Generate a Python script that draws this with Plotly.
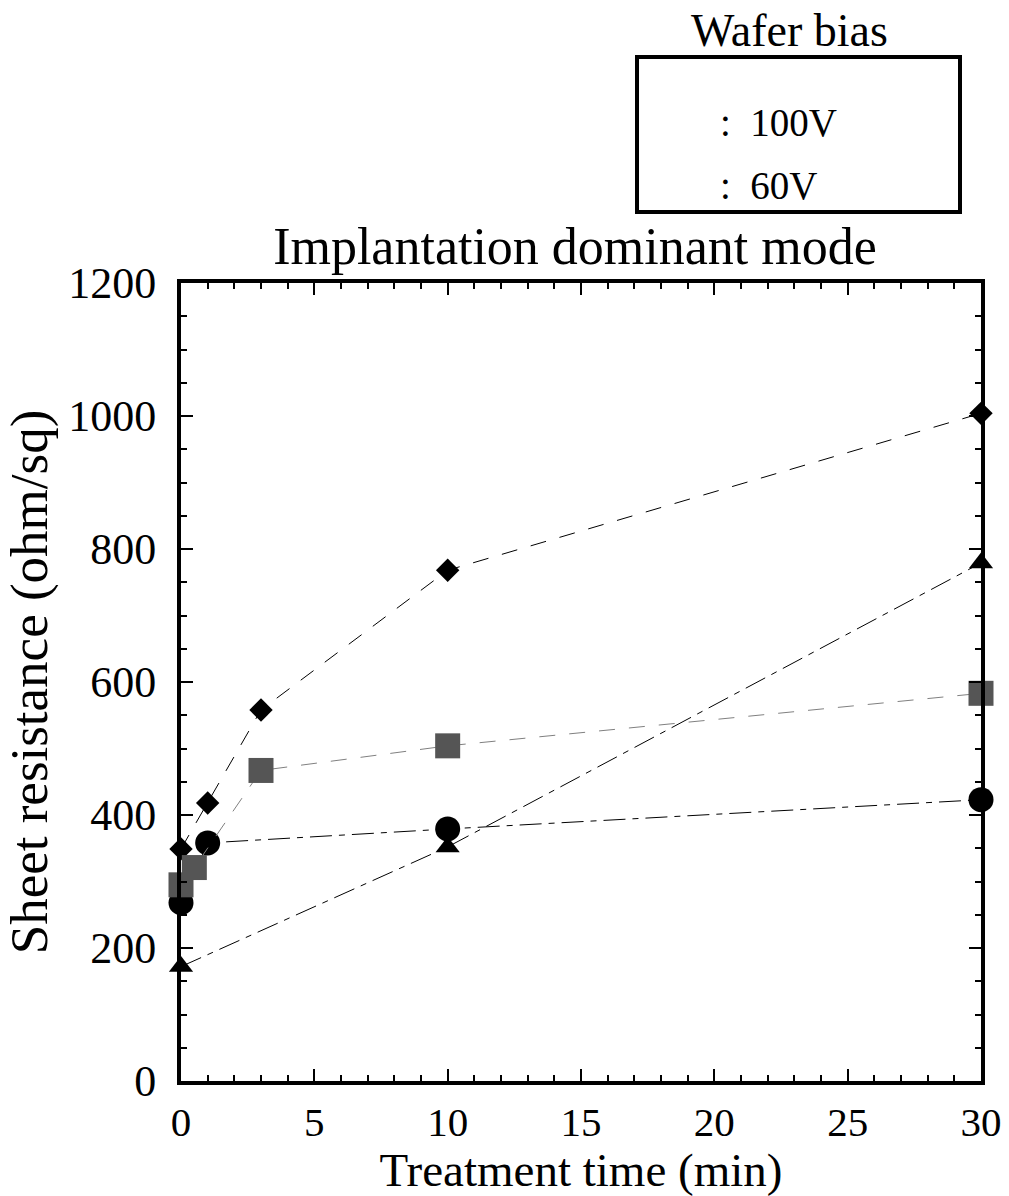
import plotly.graph_objects as go

# ---- data ----
diamond_x = [0, 1, 3, 10, 30]
diamond_y = [349, 418, 558, 768, 1004]

square_x = [0, 0.5, 3, 10, 30]
square_y = [295, 321, 467, 504, 583]

circle_x = [0, 1, 10, 30]
circle_y = [268, 358, 379, 423]

triangle_x = [0, 10, 30]
triangle_y = [172, 352, 779]

x_ticks = [0, 5, 10, 15, 20, 25, 30]
y_ticks = [0, 200, 400, 600, 800, 1000, 1200]

legend_title = "Wafer bias"
legend_labels = [":  100V", ":  60V"]

title_text = "Implantation dominant mode"
x_title = "Treatment time (min)"
y_title = "Sheet resistance (ohm/sq)"

FONT = "Liberation Serif"
DASHDOT = "22px,7px,6px,7px"
DASH = "16px,14px"

fig = go.Figure()

fig.add_trace(go.Scatter(
    x=triangle_x, y=triangle_y, mode="lines+markers",
    line=dict(color="black", width=1, dash=DASHDOT),
    marker=dict(symbol="triangle-up", size=21, color="black"),
    cliponaxis=False, showlegend=False))

fig.add_trace(go.Scatter(
    x=circle_x, y=circle_y, mode="lines+markers",
    line=dict(color="black", width=1, dash=DASHDOT),
    marker=dict(symbol="circle", size=25, color="black"),
    cliponaxis=False, showlegend=False))

fig.add_trace(go.Scatter(
    x=diamond_x, y=diamond_y, mode="lines+markers",
    line=dict(color="black", width=1, dash=DASH),
    marker=dict(symbol="diamond", size=18, color="black"),
    cliponaxis=False, showlegend=False))

fig.add_trace(go.Scatter(
    x=square_x, y=square_y, mode="lines+markers",
    line=dict(color="#808080", width=1, dash=DASH),
    marker=dict(symbol="square", size=25, color="#555555"),
    cliponaxis=False, showlegend=False))

axis_common = dict(
    showline=True, linewidth=4, linecolor="black", mirror="ticks",
    ticks="inside", ticklen=12, tickwidth=2, tickcolor="black",
    showgrid=False, zeroline=False,
)

fig.update_xaxes(
    range=[0, 30], tickvals=x_ticks, ticktext=[str(v) for v in x_ticks],
    minor=dict(dtick=1, ticks="inside", ticklen=6, tickwidth=2, tickcolor="black"),
    tickfont=dict(family=FONT, size=41, color="black"),
    title=dict(text=x_title, font=dict(family=FONT, size=47, color="black"), standoff=6),
    ticklabelstandoff=2,
    **axis_common)

fig.update_yaxes(
    range=[0, 1200], tickvals=y_ticks, ticktext=[str(v) for v in y_ticks],
    minor=dict(dtick=50, ticks="inside", ticklen=6, tickwidth=2, tickcolor="black"),
    tickfont=dict(family=FONT, size=44, color="black"),
    title=dict(text=y_title, font=dict(family=FONT, size=53, color="black"), standoff=6),
    ticklabelstandoff=12,
    **axis_common)

fig.update_layout(
    width=1009, height=1196,
    margin=dict(l=181, r=28, t=283, b=115, autoexpand=False),
    plot_bgcolor="white", paper_bgcolor="white",
    title=dict(text=title_text, x=(575 - 181) / 800, xref="paper", xanchor="center",
               y=1 - 246 / 1196, yref="container", yanchor="middle",
               font=dict(family=FONT, size=52, color="black")),
    font=dict(family=FONT, color="black"),
)

# legend box (paper coordinates relative to plot area)
def px(xp):
    return (xp - 181) / 800

def py(yp):
    return (1081 - yp) / 798

fig.add_shape(type="rect", xref="paper", yref="paper",
              x0=px(637), x1=px(960), y0=py(212), y1=py(57),
              line=dict(color="black", width=4), fillcolor="white")

fig.add_annotation(xref="paper", yref="paper", x=px(789), y=py(31),
                   text=legend_title, showarrow=False, xanchor="center", yanchor="middle",
                   font=dict(family=FONT, size=46, color="black"))
for lab, ypix in zip(legend_labels, [122, 185]):
    fig.add_annotation(xref="paper", yref="paper", x=px(718), y=py(ypix),
                       text=lab, showarrow=False, xanchor="left", yanchor="middle",
                       font=dict(family=FONT, size=39, color="black"))

fig.write_html("out.html")
